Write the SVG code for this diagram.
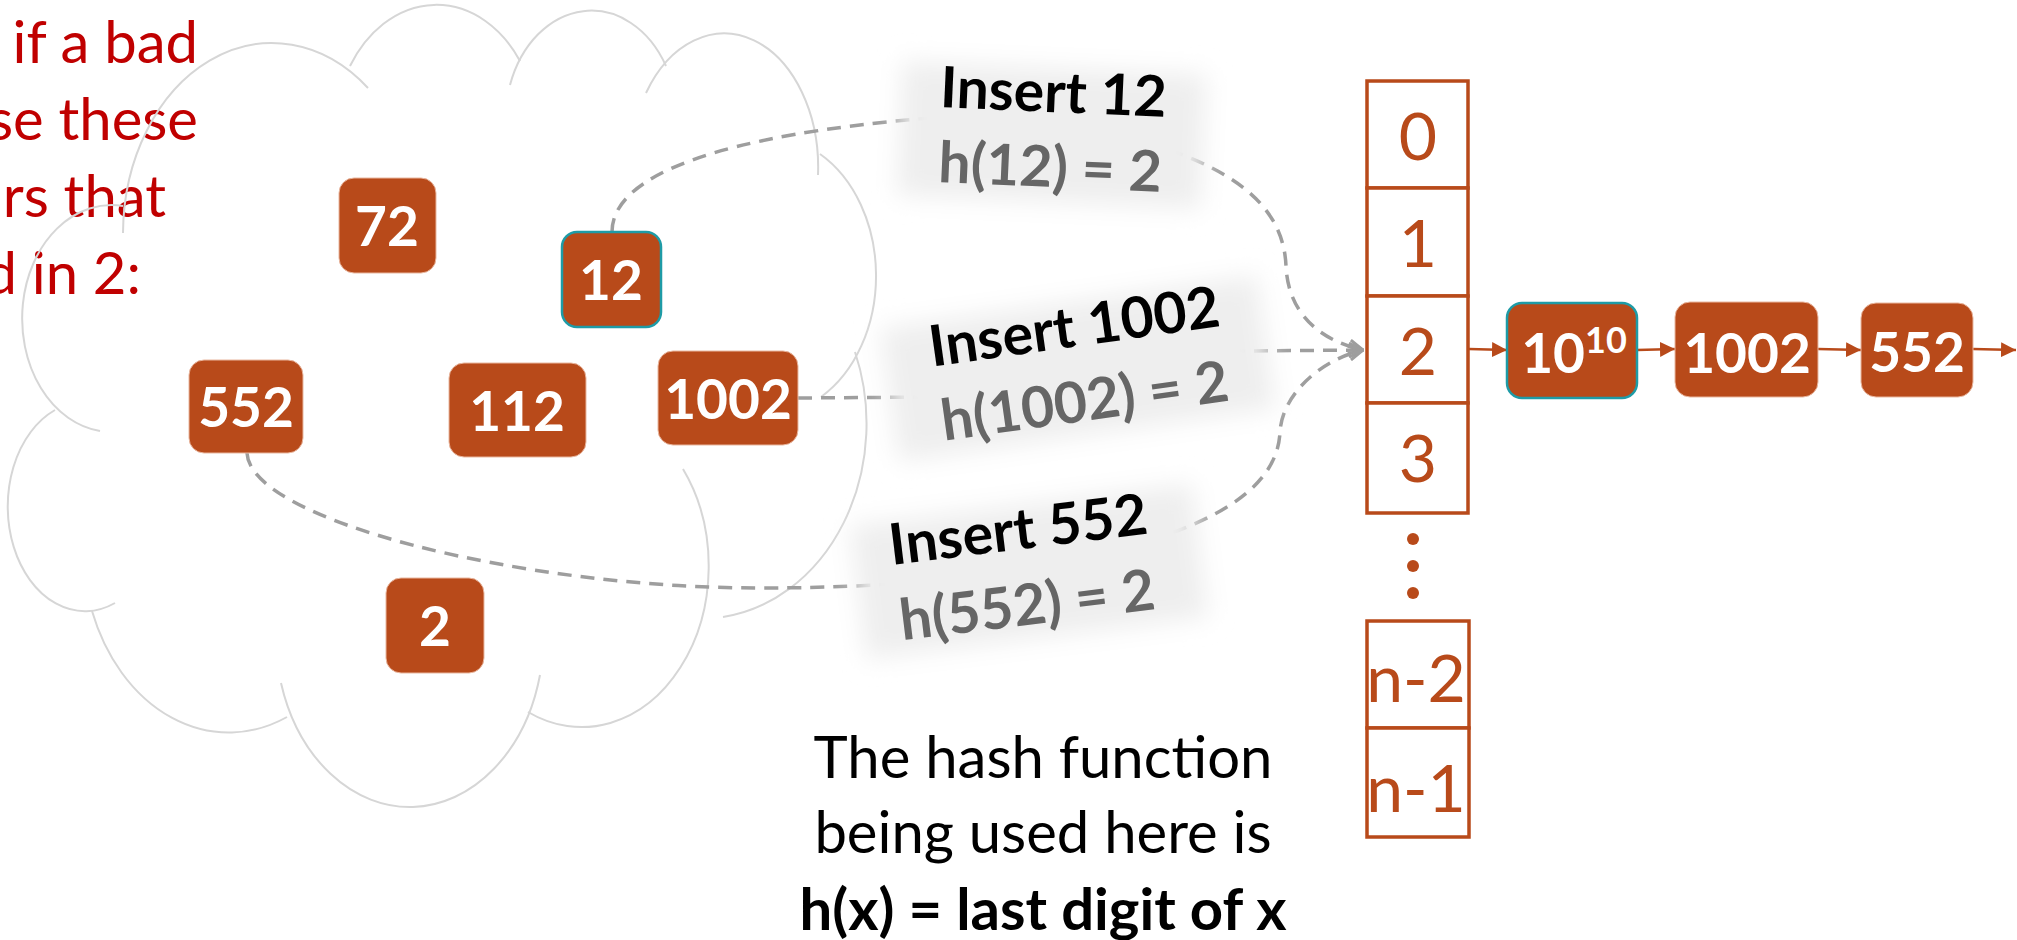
<svg xmlns="http://www.w3.org/2000/svg" width="2017" height="940" viewBox="0 0 2017 940">
  <style>
    .cloud { fill: none; stroke: #d6d6d6; stroke-width: 2; }
    .box { fill: #b84a1a; stroke: #e9b79f; stroke-width: 1; }
    .sel { fill: #b84a1a; stroke: #1e9ba6; stroke-width: 2.5; }
    .num { font-family: Lato, "Liberation Sans", sans-serif; font-weight: bold; font-size: 55px; fill: #ffffff; text-anchor: middle; }
    .red { font-family: Lato, "Liberation Sans", sans-serif; font-size: 58px; fill: #c00000; text-anchor: end; }
    .dash { fill: none; stroke: #9e9e9e; stroke-width: 3.5; stroke-dasharray: 14 9; }
    .ins { font-family: Lato, "Liberation Sans", sans-serif; font-weight: bold; font-size: 57px; fill: #000000; text-anchor: middle; }
    .hx { font-family: Lato, "Liberation Sans", sans-serif; font-weight: bold; font-size: 57px; fill: #666666; text-anchor: middle; }
    .band { fill: #eeeeee; filter: url(#soft); }
    .cell { fill: #ffffff; stroke: #b84a1a; stroke-width: 3.5; }
    .idx { font-family: Lato, "Liberation Sans", sans-serif; font-size: 66px; fill: #b84a1a; text-anchor: middle; }
    .link { stroke: #b84a1a; stroke-width: 2.5; fill: none; }
    .note { font-family: Lato, "Liberation Sans", sans-serif; font-size: 58px; fill: #000000; text-anchor: middle; }
  </style>
  <defs>
    <filter id="soft" x="-30%" y="-60%" width="160%" height="220%">
      <feGaussianBlur stdDeviation="12"/>
    </filter>
    <marker id="open" viewBox="0 0 16 16" refX="15" refY="8" markerWidth="16" markerHeight="16" markerUnits="userSpaceOnUse" orient="auto">
      <path d="M1,1 L15,8 L1,15" fill="none" stroke="#9e9e9e" stroke-width="3" stroke-dasharray="none"/>
    </marker>
    <marker id="tri" viewBox="0 0 14 14" refX="14" refY="7" markerWidth="15" markerHeight="15" markerUnits="userSpaceOnUse" orient="auto">
      <path d="M0,0 L14,7 L0,14 Z" fill="#b84a1a"/>
    </marker>
  </defs>

  <!-- red caption (cut at left edge) -->
  <g id="caption">
    <text class="red" x="198" y="63">if a bad</text>
    <text class="red" x="198" y="140">se these</text>
    <text class="red" x="166" y="217">rs that</text>
    <text class="red" x="141" y="294">d in 2:</text>
  </g>

  <!-- cloud -->
  <g id="cloud">
    <path class="cloud" d="M100,431 A89 113 0 0 1 123,206"/>
    <path class="cloud" d="M123,233 A149 191 0 0 1 368,88"/>
    <path class="cloud" d="M350,66 A102 131 0 0 1 520,61"/>
    <path class="cloud" d="M510,85 A86 110 0 0 1 666,66"/>
    <path class="cloud" d="M646,93 A94 134 0 0 1 818,175"/>
    <path class="cloud" d="M820,154 A108 139 0 0 1 821,397"/>
    <path class="cloud" d="M855,352 A165 195 0 0 1 723,617"/>
    <path class="cloud" d="M683,469 A127 161 0 0 1 528,712"/>
    <path class="cloud" d="M540,675 A134 172 0 0 1 281,683"/>
    <path class="cloud" d="M287,717 A146 187 0 0 1 92,611"/>
    <path class="cloud" d="M115,603 A76 103 0 0 1 55,410"/>
  </g>

  <!-- connectors -->
  <g id="connectors">
    <path class="dash" d="M612,232 C612,175 720,135 930,118 L1175,152 C1252,180 1284,218 1286,266 C1288,312 1318,340 1363,350" marker-end="url(#open)"/>
    <path class="dash" d="M798,398 L935,397 C1050,395 1150,352 1240,351 L1363,350" marker-end="url(#open)"/>
    <path class="dash" d="M247,453 C250,520 520,588 760,588 C830,588 880,585 900,583 L1160,537 C1235,512 1278,478 1280,432 C1282,395 1320,360 1363,350" marker-end="url(#open)"/>
    <line class="link" x1="1469" y1="349" x2="1507" y2="350" marker-end="url(#tri)"/>
    <line class="link" x1="1637" y1="350" x2="1675" y2="349" marker-end="url(#tri)"/>
    <line class="link" x1="1818" y1="349" x2="1861" y2="350" marker-end="url(#tri)"/>
    <line class="link" x1="1973" y1="349" x2="2016" y2="350" marker-end="url(#tri)"/>
  </g>

  <!-- cloud items -->
  <g id="n72"><rect class="box" x="339" y="178" width="97" height="95" rx="15"/><text class="num" x="387" y="246">72</text></g>
  <g id="n12"><rect class="sel" x="562" y="232" width="99" height="95" rx="15"/><text class="num" x="611" y="300">12</text></g>
  <g id="n552"><rect class="box" x="189" y="360" width="114" height="93" rx="15"/><text class="num" x="246" y="427">552</text></g>
  <g id="n112"><rect class="box" x="449" y="363" width="137" height="94" rx="15"/><text class="num" x="517" y="431">112</text></g>
  <g id="n1002"><rect class="box" x="658" y="351" width="140" height="94" rx="15"/><text class="num" x="728" y="419">1002</text></g>
  <g id="n2"><rect class="box" x="386" y="578" width="98" height="95" rx="15"/><text class="num" x="435" y="646">2</text></g>

  <!-- insert labels -->
  <g id="label12" transform="translate(1051,150) rotate(2.5)">
    <rect class="band" x="-152" y="-82" width="304" height="134"/>
    <text class="ins" x="0" y="-38">Insert 12</text>
    <text class="hx" x="0" y="37">h(12) = 2</text>
  </g>
  <g id="label1002" transform="translate(1082,383) rotate(-8)">
    <rect class="band" x="-192" y="-82" width="380" height="134"/>
    <text class="ins" x="0" y="-37">Insert 1002</text>
    <text class="hx" x="0" y="38">h(1002) = 2</text>
  </g>
  <g id="label552" transform="translate(1025,587) rotate(-7)">
    <rect class="band" x="-166" y="-82" width="344" height="134"/>
    <text class="ins" x="0" y="-38">Insert 552</text>
    <text class="hx" x="0" y="38">h(552) = 2</text>
  </g>

  <!-- hash table -->
  <g id="table">
    <rect class="cell" x="1367" y="81" width="101" height="107"/>
    <rect class="cell" x="1367" y="188" width="101" height="108"/>
    <rect class="cell" x="1367" y="296" width="101" height="107"/>
    <rect class="cell" x="1367" y="403" width="101" height="110"/>
    <text class="idx" x="1418" y="160">0</text>
    <text class="idx" x="1418" y="267">1</text>
    <text class="idx" x="1418" y="375">2</text>
    <text class="idx" x="1418" y="482">3</text>
    <circle cx="1413" cy="539" r="6" fill="#b84a1a"/>
    <circle cx="1413" cy="566" r="6" fill="#b84a1a"/>
    <circle cx="1413" cy="593" r="6" fill="#b84a1a"/>
    <rect class="cell" x="1367" y="621" width="102" height="107"/>
    <rect class="cell" x="1367" y="728" width="102" height="109"/>
    <text class="idx" x="1416" y="702">n-2</text>
    <text class="idx" x="1416" y="812">n-1</text>
  </g>

  <!-- chain -->
  <g id="c1010"><rect class="sel" x="1507" y="303" width="130" height="95" rx="15"/><text class="num" x="1574" y="373">10<tspan font-size="36" dy="-20">10</tspan></text></g>
  <g id="c1002"><rect class="box" x="1675" y="302" width="143" height="95" rx="15"/><text class="num" x="1747" y="373">1002</text></g>
  <g id="c552"><rect class="box" x="1861" y="303" width="112" height="94" rx="15"/><text class="num" x="1917" y="372">552</text></g>

  <!-- note -->
  <g id="note">
    <text class="note" x="1043" y="778">The hash function</text>
    <text class="note" x="1043" y="853">being used here is</text>
    <text class="note" x="1043" y="930" font-weight="bold">h(x) = last digit of x</text>
  </g>
</svg>
